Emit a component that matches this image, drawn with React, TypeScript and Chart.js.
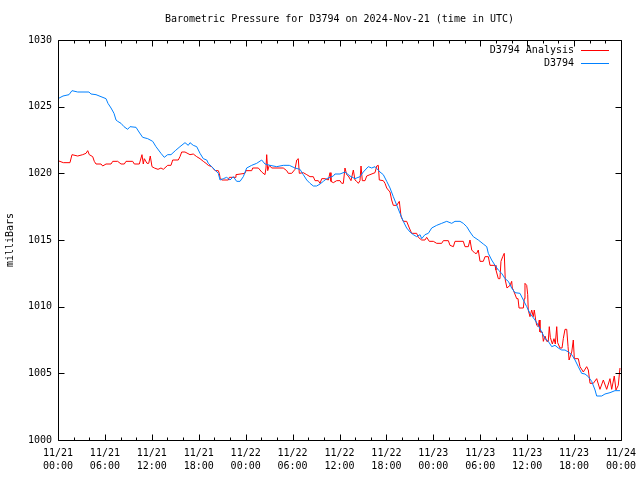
import { useEffect, useRef } from 'react';
import { Chart, registerables } from 'chart.js';

Chart.register(...registerables);

const FONT = "'DejaVu Sans Mono', 'Liberation Mono', monospace";

const chartTitle = 'Barometric Pressure for D3794 on 2024-Nov-21 (time in UTC)';
const yAxisTitle = 'milliBars';
const seriesLabels = ['D3794 Analysis', 'D3794'];
const seriesColors = ['#ff0000', '#0080ff'];

const xTickDates = ['11/21', '11/21', '11/21', '11/21', '11/22', '11/22', '11/22', '11/22', '11/23', '11/23', '11/23', '11/23', '11/24'];
const xTickTimes = ['00:00', '06:00', '12:00', '18:00', '00:00', '06:00', '12:00', '18:00', '00:00', '06:00', '12:00', '18:00', '00:00'];
const yTicks = [1000, 1005, 1010, 1015, 1020, 1025, 1030];

// hours since 11/21 00:00 UTC
const stationHours = [
  0.00, 0.64, 1.41, 1.79, 2.52, 3.96, 4.22, 4.86, 5.50, 6.14,
  6.39, 6.78, 7.16, 7.42, 7.63, 8.06, 8.44, 8.91, 9.21, 9.98,
  10.36, 10.83, 11.47, 12.11, 12.53, 13.17, 13.59, 14.03, 14.45, 15.00,
  15.60, 16.24, 16.66, 16.88, 17.30, 17.74, 18.16, 18.58, 19.02, 19.22,
  19.66, 20.08, 20.50, 20.72, 21.14, 21.57, 22.00, 22.42, 22.85, 23.28,
  23.70, 24.13, 24.77, 25.41, 26.05, 26.47, 27.11, 27.97, 28.81, 29.58,
  30.31, 30.95, 31.37, 31.81, 32.23, 32.65, 33.08, 33.51, 33.93, 34.36,
  34.79, 35.21, 35.42, 36.06, 36.70, 37.34, 37.98, 38.62, 39.04, 39.68,
  40.12, 40.54, 41.18, 41.60, 42.04, 42.46, 42.88, 43.74, 44.16, 44.59,
  45.02, 45.44, 45.87, 46.30, 46.51, 46.93, 47.36, 47.79, 48.43, 49.07,
  49.71, 50.35, 50.77, 51.41, 51.83, 52.27, 52.69, 53.11, 53.75, 54.39,
  54.83, 55.03, 55.46, 55.89, 56.31, 56.74, 57.17, 57.59, 58.02, 58.44,
  59.08, 59.51, 59.94, 60.36, 61.00, 61.42, 61.86, 62.28, 62.70, 63.14,
  63.56, 63.98, 64.42, 64.84, 65.26, 65.70, 66.12, 66.54, 66.97, 67.40,
  67.82, 68.25, 68.68, 68.89, 69.53, 69.95, 70.59, 71.23, 71.87,
];
const stationValues = [
  1025.6, 1025.8, 1025.9, 1026.2, 1026.1, 1026.1, 1025.95, 1025.9, 1025.75, 1025.6,
  1025.25, 1024.9, 1024.5, 1024.0, 1023.9, 1023.75, 1023.5, 1023.3, 1023.5, 1023.45,
  1023.1, 1022.7, 1022.6, 1022.4, 1022.0, 1021.5, 1021.2, 1021.4, 1021.4, 1021.7,
  1022.0, 1022.3, 1022.1, 1022.3, 1022.1, 1022.0, 1021.5, 1021.1, 1021.0, 1020.75,
  1020.5, 1020.25, 1020.0, 1019.5, 1019.6, 1019.7, 1019.5, 1019.75, 1019.4, 1019.4,
  1019.75, 1020.4, 1020.6, 1020.75, 1021.0, 1020.7, 1020.6, 1020.5, 1020.6, 1020.6,
  1020.4, 1020.3, 1019.9, 1019.5, 1019.25, 1019.05, 1019.05, 1019.2, 1019.4, 1019.6,
  1019.7, 1019.8, 1019.95, 1019.95, 1020.1, 1019.8, 1019.6, 1019.75, 1020.1, 1020.5,
  1020.4, 1020.5, 1020.1, 1019.9, 1019.4, 1018.9, 1018.25, 1017.0, 1016.4, 1015.9,
  1015.6, 1015.4, 1015.25, 1015.4, 1015.1, 1015.4, 1015.5, 1015.9, 1016.1, 1016.25,
  1016.4, 1016.25, 1016.4, 1016.4, 1016.25, 1016.0, 1015.6, 1015.25, 1015.0, 1014.7,
  1014.5, 1014.0, 1013.5, 1013.1, 1012.75, 1012.5, 1012.1, 1011.9, 1011.4, 1011.05,
  1011.0, 1010.5, 1010.0, 1009.5, 1009.0, 1008.6, 1008.1, 1007.6, 1007.4, 1007.0,
  1007.1, 1006.9, 1006.75, 1006.75, 1006.6, 1006.4, 1006.0, 1005.5, 1005.0, 1004.95,
  1004.75, 1004.4, 1003.75, 1003.3, 1003.3, 1003.45, 1003.55, 1003.7, 1003.7,
];

const analysisHours = [
  0.00, 0.68, 1.53, 1.79, 2.52, 3.16, 3.58, 3.80, 4.00, 4.44,
  4.64, 4.86, 5.50, 5.72, 6.14, 6.78, 7.00, 7.63, 8.06, 8.48,
  8.70, 9.55, 9.76, 10.40, 10.74, 10.91, 11.04, 11.38, 11.60, 11.80,
  12.02, 12.32, 12.79, 13.17, 13.47, 14.03, 14.45, 14.67, 15.38, 15.60,
  15.82, 16.24, 16.88, 17.30, 17.74, 18.16, 18.58, 18.93, 19.22, 19.66,
  20.08, 20.50, 20.63, 20.72, 20.94, 21.78, 21.91, 22.64, 22.76, 23.91,
  24.04, 24.77, 24.90, 25.62, 26.05, 26.47, 26.60, 26.69, 26.82, 27.02,
  27.33, 28.81, 29.25, 29.45, 29.89, 30.31, 30.53, 30.73, 30.86, 31.37,
  31.81, 32.23, 32.65, 32.87, 33.29, 33.51, 33.73, 34.15, 34.57, 34.79,
  34.91, 35.21, 35.64, 36.06, 36.28, 36.49, 36.70, 36.92, 37.13, 37.47,
  37.77, 37.98, 38.20, 38.41, 38.62, 38.75, 38.92, 39.26, 39.48, 39.90,
  40.54, 40.76, 40.96, 41.09, 41.60, 41.82, 42.04, 42.24, 42.46, 42.67,
  42.88, 43.32, 43.65, 43.87, 44.16, 44.59, 44.93, 45.23, 45.87, 46.08,
  46.51, 46.93, 47.15, 47.48, 48.00, 48.43, 49.07, 49.28, 49.92, 50.13,
  50.56, 50.77, 51.83, 52.05, 52.47, 52.69, 52.91, 53.33, 53.55, 53.75,
  53.97, 54.39, 54.61, 55.03, 55.25, 55.89, 56.01, 56.31, 56.52, 56.65,
  56.87, 57.07, 57.20, 57.42, 57.81, 58.02, 58.10, 58.23, 58.66, 58.83,
  58.96, 59.51, 59.63, 59.72, 59.94, 60.07, 60.14, 60.36, 60.58, 60.78,
  60.91, 61.09, 61.22, 61.42, 61.55, 61.64, 61.94, 62.07, 62.28, 62.50,
  62.70, 62.83, 62.96, 63.22, 63.43, 63.60, 63.78, 63.90, 64.20, 64.46,
  64.62, 64.84, 65.06, 65.23, 65.36, 65.70, 65.90, 66.03, 66.54, 66.76,
  67.18, 67.61, 67.82, 68.04, 68.46, 68.89, 69.31, 69.74, 70.17, 70.59,
  70.81, 71.14, 71.36, 71.65, 71.87,
];
const analysisValues = [
  1020.95, 1020.8, 1020.8, 1021.4, 1021.3, 1021.4, 1021.5, 1021.7, 1021.4, 1021.25,
  1020.9, 1020.7, 1020.7, 1020.55, 1020.7, 1020.7, 1020.9, 1020.9, 1020.7, 1020.7,
  1020.9, 1020.9, 1020.7, 1020.7, 1021.4, 1020.7, 1021.1, 1020.75, 1020.75, 1021.3,
  1020.5, 1020.4, 1020.3, 1020.4, 1020.3, 1020.6, 1020.6, 1021.0, 1021.0, 1021.25,
  1021.6, 1021.6, 1021.4, 1021.45, 1021.25, 1021.1, 1020.9, 1020.75, 1020.6, 1020.5,
  1020.2, 1020.2, 1020.0, 1019.7, 1019.5, 1019.5, 1019.7, 1019.7, 1019.9, 1020.0,
  1020.2, 1020.2, 1020.4, 1020.4, 1020.1, 1019.9, 1020.4, 1021.4, 1020.2, 1020.6,
  1020.4, 1020.4, 1020.2, 1020.0, 1020.0, 1020.3, 1021.0, 1021.1, 1020.0, 1020.05,
  1019.9, 1019.75, 1019.75, 1019.45, 1019.45, 1019.25, 1019.6, 1019.6, 1019.5, 1020.05,
  1019.4, 1019.3, 1019.45, 1019.45, 1019.25, 1019.25, 1020.4, 1019.9, 1019.8, 1019.45,
  1020.25, 1019.5, 1019.4, 1019.25, 1019.45, 1020.55, 1019.45, 1019.45, 1019.8, 1019.9,
  1020.05, 1020.55, 1020.6, 1019.5, 1019.45, 1019.25, 1018.9, 1018.75, 1018.6, 1018.0,
  1017.6, 1017.6, 1017.9, 1016.75, 1016.4, 1016.4, 1015.9, 1015.5, 1015.5, 1015.2,
  1015.0, 1015.0, 1015.2, 1014.9, 1014.9, 1014.75, 1014.75, 1014.95, 1014.95, 1014.6,
  1014.5, 1014.9, 1014.9, 1014.5, 1014.5, 1015.0, 1014.25, 1014.0, 1014.0, 1014.25,
  1013.4, 1013.4, 1013.75, 1013.75, 1013.1, 1013.1, 1012.75, 1012.1, 1012.1, 1013.4,
  1013.75, 1014.0, 1012.0, 1011.4, 1011.6, 1011.9, 1011.4, 1011.25, 1010.6, 1010.6,
  1009.9, 1009.9, 1010.6, 1011.75, 1011.6, 1010.9, 1009.75, 1009.25, 1009.75, 1009.25,
  1009.75, 1009.0, 1008.6, 1008.5, 1009.0, 1008.1, 1008.1, 1007.4, 1007.8, 1007.4,
  1007.4, 1008.5, 1007.7, 1007.2, 1007.6, 1007.2, 1008.5, 1007.3, 1006.9, 1006.9,
  1007.6, 1008.3, 1008.3, 1007.0, 1006.0, 1006.6, 1007.5, 1006.1, 1006.1, 1005.5,
  1005.1, 1005.5, 1005.25, 1004.25, 1004.25, 1004.6, 1003.8, 1004.5, 1003.8, 1004.6,
  1003.8, 1004.8, 1003.75, 1004.1, 1005.4,
];

const X_MIN = 0;
const X_MAX = 72;
const MAJOR_STEP = 6;
const MINOR_STEP = 2;

const framePlugin = {
  id: 'gnuFrame',
  afterDatasetsDraw(chart: any) {
    const { ctx, chartArea, scales } = chart;
    const { left, right, top, bottom } = chartArea;
    const xs = scales.x;
    const ys = scales.y;
    ctx.save();
    ctx.strokeStyle = '#000';
    ctx.lineWidth = 1;
    ctx.beginPath();
    const L = Math.round(left) + 0.5;
    const R = Math.round(right) + 0.5;
    const T = Math.round(top) + 0.5;
    const B = Math.round(bottom) + 0.5;
    ctx.moveTo(L, T);
    ctx.lineTo(R, T);
    ctx.lineTo(R, B);
    ctx.lineTo(L, B);
    ctx.closePath();
    for (let h = X_MIN; h <= X_MAX; h += MINOR_STEP) {
      const px = Math.round(xs.getPixelForValue(h)) + 0.5;
      const len = h % MAJOR_STEP === 0 ? 6 : 3;
      ctx.moveTo(px, B);
      ctx.lineTo(px, B - len);
      ctx.moveTo(px, T);
      ctx.lineTo(px, T + len);
    }
    for (const v of yTicks) {
      const py = Math.round(ys.getPixelForValue(v)) + 0.5;
      ctx.moveTo(L, py);
      ctx.lineTo(L + 6, py);
      ctx.moveTo(R, py);
      ctx.lineTo(R - 6, py);
    }
    ctx.stroke();

    // legend (gnuplot style: text then line sample, top right inside plot)
    ctx.font = `10px ${FONT}`;
    ctx.textAlign = 'right';
    ctx.textBaseline = 'middle';
    const textRight = right - 47;
    const lineStart = right - 40;
    const lineEnd = right - 12;
    seriesLabels.forEach((lab, i) => {
      const yy = top + 10 + i * 13;
      ctx.fillStyle = '#000';
      ctx.fillText(lab, textRight, yy);
      ctx.strokeStyle = seriesColors[i];
      ctx.beginPath();
      ctx.moveTo(lineStart, Math.round(yy) + 0.5);
      ctx.lineTo(lineEnd, Math.round(yy) + 0.5);
      ctx.stroke();
    });
    ctx.restore();
  },
};

export default function App() {
  const ref = useRef<HTMLCanvasElement | null>(null);

  useEffect(() => {
    if (!ref.current) return;
    const chart = new Chart(ref.current, {
      type: 'line',
      data: {
        datasets: [
          {
            label: seriesLabels[0],
            data: analysisHours.map((h, i) => ({ x: h, y: analysisValues[i] })),
            borderColor: seriesColors[0],
            borderWidth: 1,
            pointRadius: 0,
            tension: 0,
            fill: false,
            order: 1,
          },
          {
            label: seriesLabels[1],
            data: stationHours.map((h, i) => ({ x: h, y: stationValues[i] })),
            borderColor: seriesColors[1],
            borderWidth: 1,
            pointRadius: 0,
            tension: 0,
            fill: false,
            order: 0,
          },
        ],
      },
      options: {
        responsive: false,
        animation: false,
        events: [],
        layout: { padding: { left: 0, right: 19, top: 0, bottom: 0 } },
        plugins: {
          legend: { display: false },
          tooltip: { enabled: false },
          title: {
            display: true,
            text: chartTitle,
            fullSize: false,
            color: '#000',
            font: { family: FONT, size: 10, weight: 'normal', lineHeight: 1.2 },
            padding: { top: 13, bottom: 15 },
          },
        },
        scales: {
          x: {
            type: 'linear',
            min: X_MIN,
            max: X_MAX,
            grid: { display: false, drawTicks: false },
            border: { display: false },
            afterFit: (s: any) => {
              s.height = 40;
              s.paddingLeft = 0;
              s.paddingRight = 0;
            },
            ticks: {
              stepSize: MAJOR_STEP,
              autoSkip: false,
              maxRotation: 0,
              minRotation: 0,
              padding: 7,
              color: '#000',
              font: { family: FONT, size: 10, lineHeight: 1.3 },
              callback: (value: any) => {
                const idx = Math.round((Number(value) - X_MIN) / MAJOR_STEP);
                return [xTickDates[idx], xTickTimes[idx]];
              },
            },
          },
          y: {
            type: 'linear',
            min: yTicks[0],
            max: yTicks[yTicks.length - 1],
            grid: { display: false, drawTicks: false },
            border: { display: false },
            afterFit: (s: any) => {
              s.width = 58;
              s.paddingTop = 0;
              s.paddingBottom = 0;
            },
            title: {
              display: true,
              text: yAxisTitle,
              color: '#000',
              font: { family: FONT, size: 10, lineHeight: 1.2 },
              padding: { top: 4, bottom: 0 },
            },
            ticks: {
              stepSize: 5,
              padding: 6,
              color: '#000',
              font: { family: FONT, size: 10 },
              callback: (value: any) => String(value),
            },
          },
        },
      },
      plugins: [framePlugin],
    });
    return () => chart.destroy();
  }, []);

  return (
    <div style={{ position: 'fixed', left: 0, top: 0, width: 640, height: 480, background: '#fff' }}>
      <canvas ref={ref} width={640} height={480} style={{ display: 'block' }} />
    </div>
  );
}
